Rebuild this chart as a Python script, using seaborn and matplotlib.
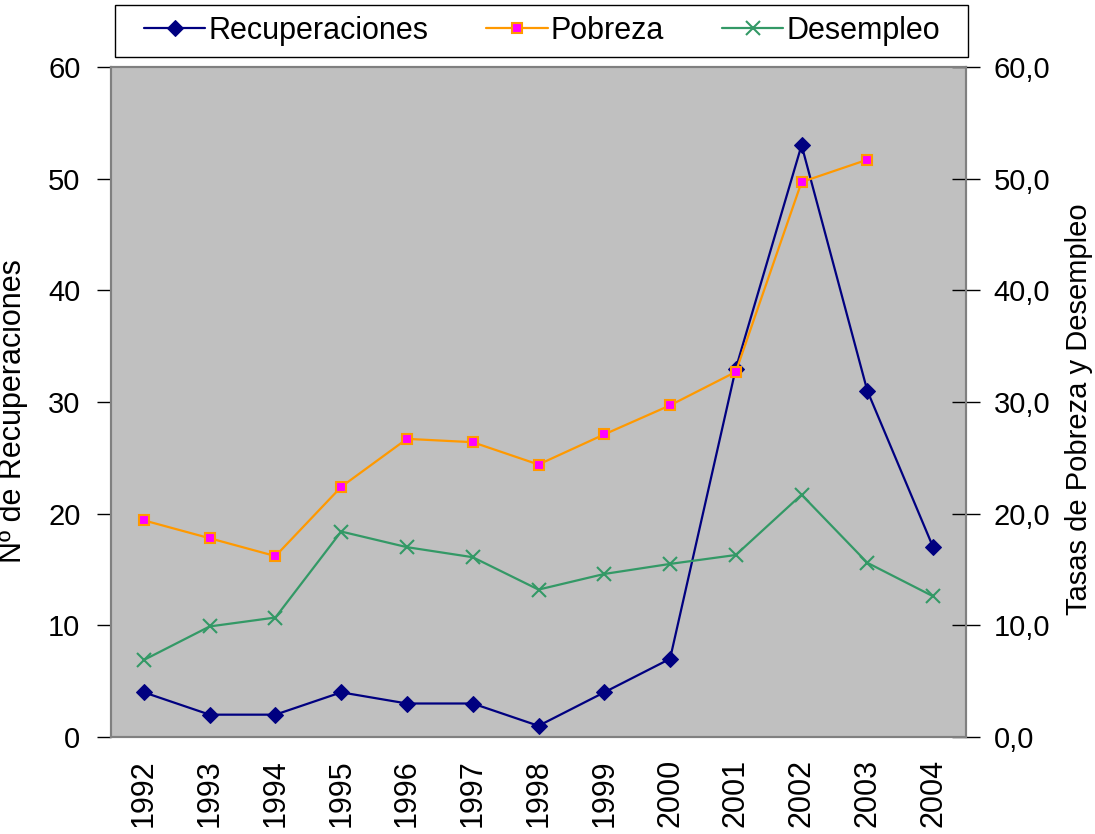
import numpy as np
import pandas as pd
import matplotlib
matplotlib.use("Agg")
import matplotlib.pyplot as plt
import seaborn as sns
from matplotlib.ticker import FuncFormatter, FixedLocator
from matplotlib.patches import Rectangle

years = ["1992", "1993", "1994", "1995", "1996", "1997", "1998",
         "1999", "2000", "2001", "2002", "2003", "2004"]
recuperaciones = [4, 2, 2, 4, 3, 3, 1, 4, 7, 33, 53, 31, 17]
pobreza = [19.4, 17.8, 16.2, 22.4, 26.7, 26.4, 24.4, 27.1, 29.7, 32.7, 49.7, 51.7, np.nan]
desempleo = [6.9, 9.9, 10.7, 18.4, 17.0, 16.1, 13.2, 14.6, 15.5, 16.3, 21.7, 15.6, 12.6]

left_ticks = [0, 10, 20, 30, 40, 50, 60]

sns.set_style("white")
plt.rcParams["font.family"] = ["Liberation Sans", "DejaVu Sans"]
plt.rcParams["font.size"] = 21
plt.rcParams["text.color"] = "black"
plt.rcParams["axes.labelcolor"] = "black"
plt.rcParams["xtick.color"] = "black"
plt.rcParams["ytick.color"] = "black"

df = pd.DataFrame({"Año": years, "Recuperaciones": recuperaciones,
                   "Pobreza": pobreza, "Desempleo": desempleo})
df["pos"] = np.arange(len(years))

fig = plt.figure(figsize=(10.95, 8.34), dpi=100)
ax = fig.add_axes([111/1095, 1-737/834, 855/1095, 670/834])
ax.set_facecolor("#C0C0C0")
ax2 = ax.twinx()

sns.lineplot(data=df, x="pos", y="Recuperaciones", ax=ax, color="#000080",
             marker="D", markersize=8, markeredgecolor="#000080", linewidth=1.6,
             label="Recuperaciones", legend=False)
sns.lineplot(data=df.dropna(subset=["Pobreza"]), x="pos", y="Pobreza", ax=ax2, color="#FF9900",
             marker="s", markersize=7.5, markerfacecolor="#FF00FF",
             markeredgecolor="#FF9900", markeredgewidth=1.5, linewidth=1.6,
             label="Pobreza", legend=False)
sns.lineplot(data=df, x="pos", y="Desempleo", ax=ax2, color="#339966",
             marker="x", markersize=10, markeredgecolor="#339966",
             markeredgewidth=1.5, linewidth=1.6,
             label="Desempleo", legend=False)

for a in (ax, ax2):
    a.set_xlim(-0.5, len(years) - 0.5)
    a.set_ylim(0, 60)
    for s in a.spines.values():
        s.set_color("#808080")
        s.set_linewidth(1.5)

ax.xaxis.set_major_locator(FixedLocator(np.arange(-0.5, len(years), 1.0)))
ax.set_xticklabels([], minor=False)
ax.set_xticks(np.arange(len(years)), labels=years, minor=True, rotation=90)
ax.tick_params(axis="x", which="major", direction="out", length=10, width=1, color="black")
ax.tick_params(axis="x", which="minor", length=0, pad=16, labelsize=22)
ax.set_xlabel("")

ax.set_yticks(left_ticks)
ax.tick_params(axis="y", direction="out", length=10, width=1, color="black", pad=12, labelsize=21)
ax2.set_yticks(left_ticks)
ax2.yaxis.set_major_formatter(FuncFormatter(lambda v, p: f"{v:.1f}".replace(".", ",")))
ax2.tick_params(axis="y", direction="inout", length=20, width=1, color="black", pad=10, labelsize=21)
ax2.tick_params(axis="x", length=0)
ax2.set_xlabel("")

ax.set_ylabel("Nº de Recuperaciones", fontsize=22)
ax.yaxis.set_label_coords(-0.097, 0.487)
ax2.set_ylabel("Tasas de Pobreza y Desempleo", fontsize=21)
ax2.yaxis.set_label_coords(1.116, 0.49)

handles = ax.get_lines()[:1] + ax2.get_lines()[:2]
labels = ["Recuperaciones", "Pobreza", "Desempleo"]
leg = fig.legend(handles, labels, loc="center", ncol=3,
                 bbox_to_anchor=(542/1095, 1-31/834),
                 frameon=False, fontsize=22, handlelength=2.0,
                 handletextpad=0.1, columnspacing=1.9, borderaxespad=0)
fig.patches.append(Rectangle((115/1095, 1-57/834), 853/1095, 52/834,
                             transform=fig.transFigure, fill=False,
                             edgecolor="black", linewidth=1.0))

fig.savefig("out.png", dpi=100)
